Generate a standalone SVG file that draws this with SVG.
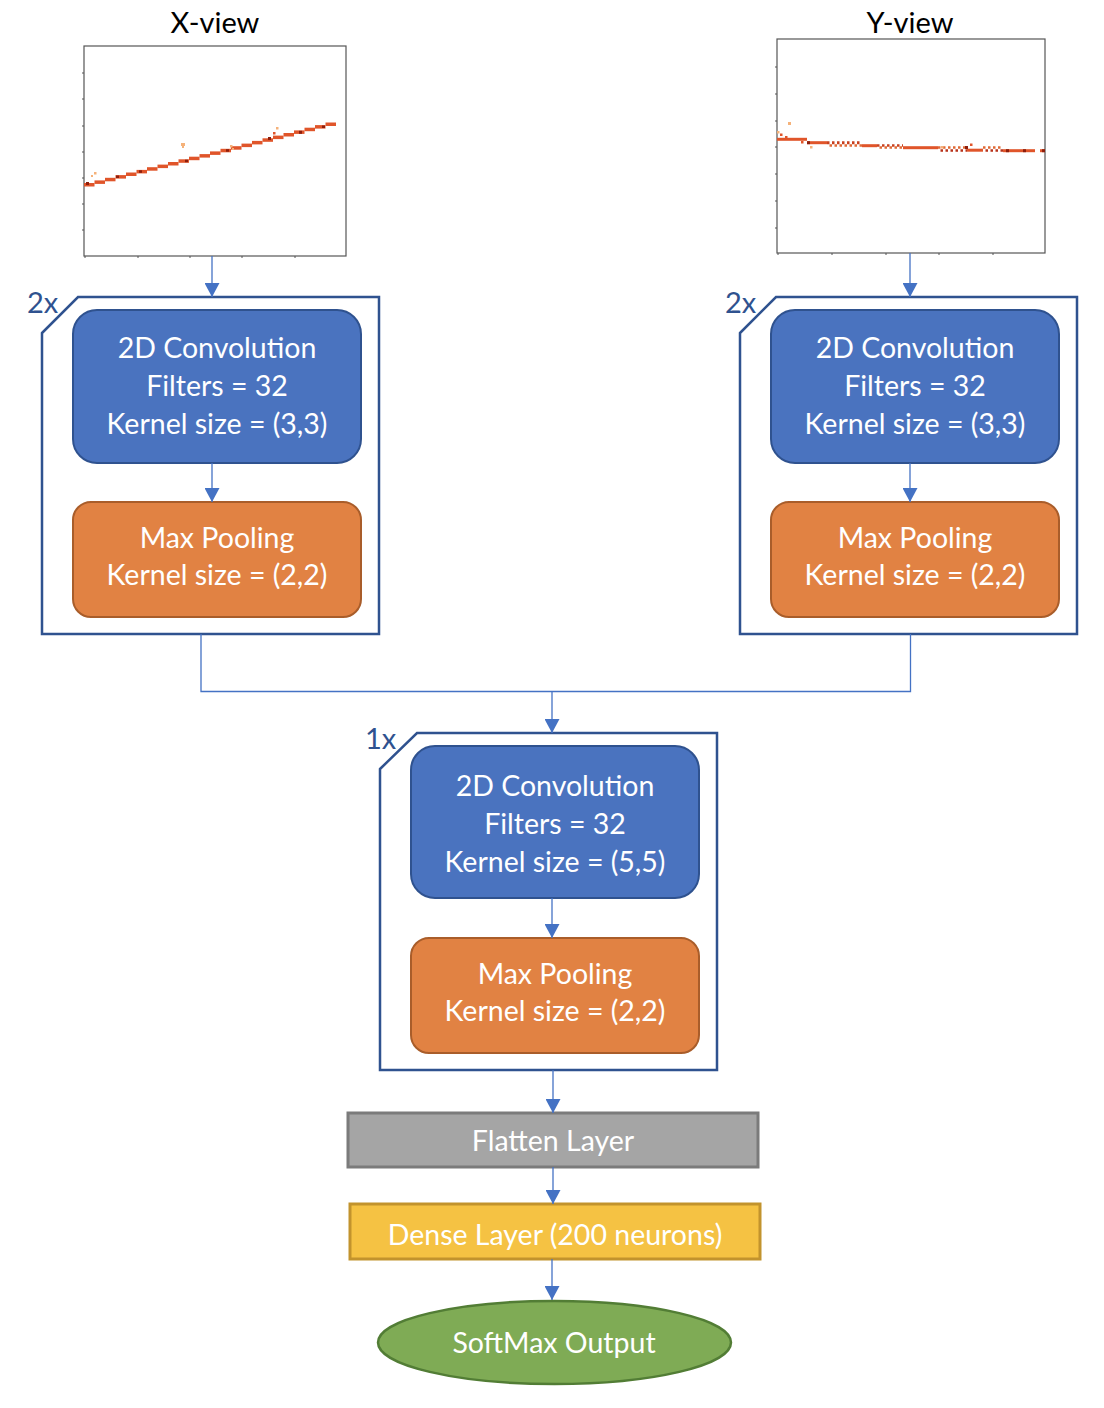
<svg xmlns="http://www.w3.org/2000/svg" width="1104" height="1408" viewBox="0 0 1104 1408">
<defs>
<style>
text{font-family:Lato,"Liberation Sans",Arial,sans-serif;}
.t{font-size:28.5px;fill:#ffffff;text-anchor:middle;}
.title{font-size:29px;fill:#000000;text-anchor:middle;}
.rep{font-size:29px;fill:#2F528F;}
.frame{fill:none;stroke:#2F528F;stroke-width:2.5;}
.conv{fill:#4A73BF;stroke:#2F528F;stroke-width:2;}
.pool{fill:#E18243;stroke:#A95D2A;stroke-width:2;}
.plot{fill:#ffffff;stroke:#555555;stroke-width:1.2;}
.tick{stroke:#555555;stroke-width:1;}
.c{fill:none;stroke:#4472C4;stroke-width:1.3;}
.d{fill:#E0552A;}
.k{fill:#8E1E0C;}
.l{fill:#F5B27A;}
</style>
<marker id="ah" markerUnits="userSpaceOnUse" markerWidth="14" markerHeight="15" refX="14" refY="7.5" orient="auto">
<path d="M0,0 L14,7.5 L0,15 Z" fill="#4472C4"/>
</marker>
</defs>
<rect width="1104" height="1408" fill="#ffffff"/>

<g id="xview">
<text class="title" x="215" y="33">X-view</text>
<rect class="plot" x="84" y="46" width="262" height="210"/>
<path class="tick" d="M82,73H84M82,99H84M82,126H84M82,152H84M82,178H84M82,204H84M82,230H84M85,256V258M138,256V258M190,256V258M242,256V258M295,256V258"/>
<g>
<rect class="d" x="84" y="183" width="10.5" height="3.5"/>
<rect class="d" x="94.5" y="180.4" width="10.5" height="3.5"/>
<rect class="d" x="105" y="177.8" width="10.5" height="3.5"/>
<rect class="d" x="115.5" y="175.1" width="10.5" height="3.5"/>
<rect class="d" x="126" y="172.5" width="10.5" height="3.5"/>
<rect class="d" x="136.5" y="169.9" width="10.5" height="3.5"/>
<rect class="d" x="147" y="167.2" width="10.5" height="3.5"/>
<rect class="d" x="157.5" y="164.6" width="10.5" height="3.5"/>
<rect class="d" x="168" y="162" width="10.5" height="3.5"/>
<rect class="d" x="178.5" y="159.3" width="10.5" height="3.5"/>
<rect class="d" x="189" y="156.7" width="10.5" height="3.5"/>
<rect class="d" x="199.5" y="154.1" width="10.5" height="3.5"/>
<rect class="d" x="210" y="151.4" width="10.5" height="3.5"/>
<rect class="d" x="220.5" y="148.8" width="10.5" height="3.5"/>
<rect class="d" x="231" y="146.2" width="10.5" height="3.5"/>
<rect class="d" x="241.5" y="143.6" width="10.5" height="3.5"/>
<rect class="d" x="252" y="140.9" width="10.5" height="3.5"/>
<rect class="d" x="262.5" y="138.3" width="10.5" height="3.5"/>
<rect class="d" x="273" y="135.6" width="10.5" height="3.5"/>
<rect class="d" x="283.5" y="133" width="10.5" height="3.5"/>
<rect class="d" x="294" y="130.4" width="10.5" height="3.5"/>
<rect class="d" x="304.5" y="127.7" width="10.5" height="3.5"/>
<rect class="d" x="315" y="125.1" width="10.5" height="3.5"/>
<rect class="d" x="325.5" y="122.5" width="10.5" height="3.5"/>
<rect class="k" x="86" y="182" width="3" height="3"/>
<rect class="k" x="116" y="175.5" width="3" height="2.5"/>
<rect class="k" x="139" y="170.3" width="3" height="2.5"/>
<rect class="k" x="185" y="159.7" width="3" height="2.5"/>
<rect class="k" x="226" y="149.2" width="3" height="2.5"/>
<rect class="k" x="268" y="137" width="3" height="3"/>
<rect class="k" x="299" y="130.8" width="3" height="3"/>
<rect class="k" x="322" y="125.5" width="3" height="2.5"/>
<rect class="l" x="94" y="172" width="2.5" height="2.5"/>
<rect class="l" x="91" y="175" width="2" height="2"/>
<rect class="l" x="181" y="143" width="4" height="3"/>
<rect class="l" x="182" y="146" width="2" height="2"/>
<rect class="l" x="230" y="145" width="2.5" height="2.5"/>
<rect class="l" x="232" y="148" width="2" height="2"/>
<rect class="l" x="276" y="127" width="2.5" height="2.5"/>
<rect class="d" x="273" y="132" width="2.5" height="2.5"/>
</g>
</g>

<g id="yview">
<text class="title" x="910" y="33">Y-view</text>
<rect class="plot" x="777" y="39" width="268" height="214"/>
<path class="tick" d="M775,67H777M775,94H777M775,121H777M775,147H777M775,174H777M775,201H777M775,228H777M778,253V255M832,253V255M886,253V255M939,253V255M993,253V255"/>
<g>
<rect class="d" x="777" y="137.8" width="30" height="3"/>
<rect class="d" x="807" y="141.2" width="20" height="3"/>
<path d="M827,142.7H862" stroke="#C8401E" stroke-width="3" stroke-dasharray="2.5 2.5"/>
<path d="M829.5,145.4H862" stroke="#E06A36" stroke-width="2.5" stroke-dasharray="2.5 2.5"/>
<rect class="d" x="862" y="144.2" width="15" height="3"/>
<path d="M877,145.4H903" stroke="#C8401E" stroke-width="2.5" stroke-dasharray="2.5 2.5"/>
<path d="M879.5,147.6H903" stroke="#E06A36" stroke-width="2.5" stroke-dasharray="2.5 2.5"/>
<rect class="d" x="903" y="146.2" width="35" height="3"/>
<path d="M938,147.6H967" stroke="#E06A36" stroke-width="2.5" stroke-dasharray="2.5 2.5"/>
<path d="M940.5,150.6H967" stroke="#B8321A" stroke-width="2.5" stroke-dasharray="2.5 2.5"/>
<rect class="d" x="967" y="148.7" width="16" height="3"/>
<path d="M983,147.6H1003" stroke="#E06A36" stroke-width="2.5" stroke-dasharray="2.5 2.5"/>
<path d="M985.5,150.6H1003" stroke="#B8321A" stroke-width="2.5" stroke-dasharray="2.5 2.5"/>
<rect class="d" x="1003" y="149.2" width="32" height="3"/>
<rect class="d" x="1040" y="149.2" width="5" height="3"/>
<rect class="k" x="807" y="141.2" width="3" height="3"/>
<rect class="k" x="965" y="146" width="3" height="3"/>
<rect class="k" x="1006" y="149.2" width="3" height="3"/>
<rect class="k" x="1023" y="149.2" width="3" height="3"/>
<rect class="k" x="1042" y="149.2" width="3" height="3"/>
<rect class="l" x="788" y="122" width="3" height="3"/>
<rect class="l" x="777" y="131" width="2.5" height="2.5"/>
<rect class="d" x="780" y="133.5" width="2.5" height="2.5"/>
<rect class="d" x="785" y="136" width="2.5" height="2"/>
<rect class="d" x="801" y="141" width="2.5" height="2.5"/>
<rect class="l" x="810" y="146" width="2.5" height="2.5"/>
<rect class="l" x="941" y="146" width="2.5" height="2.5"/>
<rect class="d" x="970" y="143.5" width="2.5" height="2.5"/>
</g>
</g>

<g id="block-left">
<path class="frame" d="M42,333 L78,297 L379,297 L379,634 L42,634 Z"/>
<text class="rep" x="27" y="313">2x</text>
</g>
<g id="conv-left">
<rect class="conv" x="73" y="310" width="288" height="153" rx="24"/>
<text class="t" x="217" y="358">2D Convolution</text>
<text class="t" x="217" y="396">Filters = 32</text>
<text class="t" x="217" y="434">Kernel size = (3,3)</text>
</g>
<g id="pool-left">
<rect class="pool" x="73" y="502" width="288" height="115" rx="18"/>
<text class="t" x="217" y="548">Max Pooling</text>
<text class="t" x="217" y="585">Kernel size = (2,2)</text>
</g>

<g id="block-right">
<path class="frame" d="M740,333 L776,297 L1077,297 L1077,634 L740,634 Z"/>
<text class="rep" x="725" y="313">2x</text>
</g>
<g id="conv-right">
<rect class="conv" x="771" y="310" width="288" height="153" rx="24"/>
<text class="t" x="915" y="358">2D Convolution</text>
<text class="t" x="915" y="396">Filters = 32</text>
<text class="t" x="915" y="434">Kernel size = (3,3)</text>
</g>
<g id="pool-right">
<rect class="pool" x="771" y="502" width="288" height="115" rx="18"/>
<text class="t" x="915" y="548">Max Pooling</text>
<text class="t" x="915" y="585">Kernel size = (2,2)</text>
</g>

<g id="block-center">
<path class="frame" d="M380,769 L417,733 L717,733 L717,1070 L380,1070 Z"/>
<text class="rep" x="365" y="749">1x</text>
</g>
<g id="conv-center">
<rect class="conv" x="411" y="746" width="288" height="152" rx="24"/>
<text class="t" x="555" y="796">2D Convolution</text>
<text class="t" x="555" y="834">Filters = 32</text>
<text class="t" x="555" y="872">Kernel size = (5,5)</text>
</g>
<g id="pool-center">
<rect class="pool" x="411" y="938" width="288" height="115" rx="18"/>
<text class="t" x="555" y="984">Max Pooling</text>
<text class="t" x="555" y="1021">Kernel size = (2,2)</text>
</g>

<g id="flatten">
<rect x="348" y="1113" width="410" height="54" fill="#A5A5A5" stroke="#7B7B7B" stroke-width="3"/>
<text class="t" x="553" y="1151">Flatten Layer</text>
</g>
<g id="dense">
<rect x="350" y="1204" width="410" height="55" fill="#F5C243" stroke="#C2932D" stroke-width="3"/>
<text class="t" x="555" y="1245">Dense Layer (200 neurons)</text>
</g>
<g id="softmax">
<ellipse cx="554.5" cy="1342.5" rx="176.5" ry="41.5" fill="#7FAB55" stroke="#527D35" stroke-width="2.5"/>
<text class="t" x="554" y="1353">SoftMax Output</text>
</g>

<g id="connectors">
<path class="c" d="M212,256 V297" marker-end="url(#ah)"/>
<path class="c" d="M910,253 V297" marker-end="url(#ah)"/>
<path class="c" d="M212,463 V502" marker-end="url(#ah)"/>
<path class="c" d="M910,463 V502" marker-end="url(#ah)"/>
<path class="c" d="M201,634 V691.5 H910.5 V634"/>
<path class="c" d="M552,691.5 V733" marker-end="url(#ah)"/>
<path class="c" d="M552,898 V938" marker-end="url(#ah)"/>
<path class="c" d="M553,1070 V1113" marker-end="url(#ah)"/>
<path class="c" d="M553,1167 V1204" marker-end="url(#ah)"/>
<path class="c" d="M552,1259 V1300" marker-end="url(#ah)"/>
</g>
</svg>
